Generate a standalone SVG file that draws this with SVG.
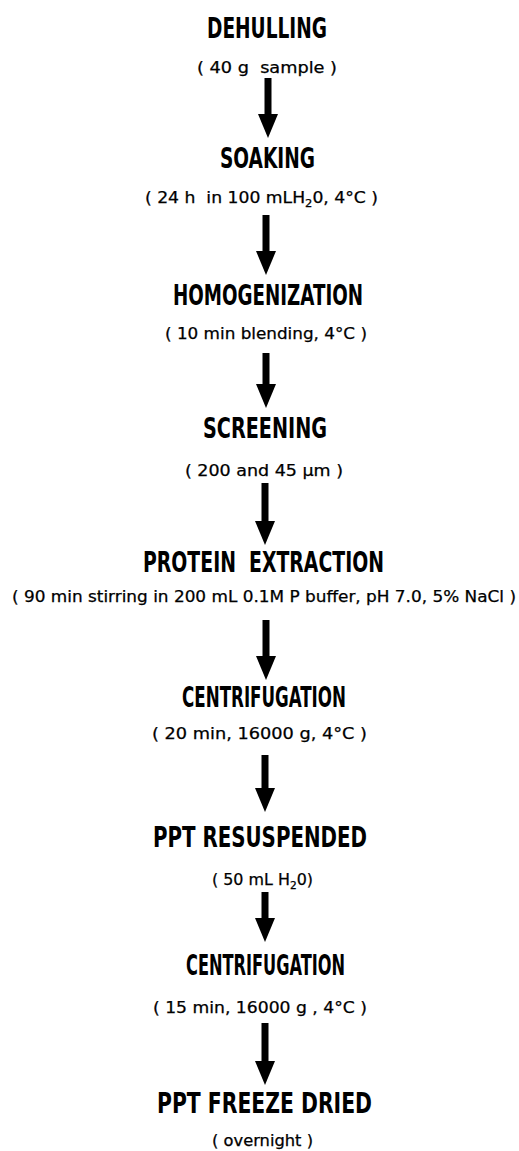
<svg xmlns="http://www.w3.org/2000/svg" width="519" height="1151" viewBox="0 0 519 1151">
<style>
.t{font-family:"DejaVu Sans Condensed","DejaVu Sans",sans-serif;font-weight:bold;font-size:29px;fill:#000;white-space:pre}
.s{font-family:"DejaVu Sans","Liberation Sans",sans-serif;font-size:15px;fill:#000;stroke:#000;stroke-width:0.25;white-space:pre}
.sub{font-size:10px}
.a{stroke:#000;stroke-width:7;fill:none;marker-end:url(#ah)}
</style>
<defs>
<marker id="ah" viewBox="0 0 24 20" refX="0" refY="10" markerWidth="24" markerHeight="20" markerUnits="userSpaceOnUse" orient="auto">
<path d="M0,0 L24,10 L0,20 z" fill="#000"/>
</marker>
</defs>
<rect width="519" height="1151" fill="#fff"/>
<g id="n1"><text class="t" x="207" y="38" textLength="120" lengthAdjust="spacingAndGlyphs">DEHULLING</text>
<text class="s" x="197" y="73" textLength="140" lengthAdjust="spacingAndGlyphs">( 40 g  sample )</text></g>
<g id="n2"><text class="t" x="220" y="168" textLength="95" lengthAdjust="spacingAndGlyphs">SOAKING</text>
<text class="s" x="145" y="203" textLength="233" lengthAdjust="spacingAndGlyphs">( 24 h  in 100 mLH<tspan class="sub" dy="4">2</tspan><tspan dy="-4">0, 4°C )</tspan></text></g>
<g id="n3"><text class="t" x="173" y="305" textLength="190" lengthAdjust="spacingAndGlyphs">HOMOGENIZATION</text>
<text class="s" x="165" y="339" textLength="202" lengthAdjust="spacingAndGlyphs">( 10 min blending, 4°C )</text></g>
<g id="n4"><text class="t" x="203" y="438" textLength="124" lengthAdjust="spacingAndGlyphs">SCREENING</text>
<text class="s" x="185" y="476" textLength="158" lengthAdjust="spacingAndGlyphs">( 200 and 45 µm )</text></g>
<g id="n5"><text class="t" x="143" y="572" textLength="241" lengthAdjust="spacingAndGlyphs">PROTEIN  EXTRACTION</text>
<text class="s" x="12" y="602" textLength="504" lengthAdjust="spacingAndGlyphs">( 90 min stirring in 200 mL 0.1M P buffer, pH 7.0, 5% NaCl )</text></g>
<g id="n6"><text class="t" x="182" y="707" textLength="164" lengthAdjust="spacingAndGlyphs">CENTRIFUGATION</text>
<text class="s" x="152" y="739" textLength="215" lengthAdjust="spacingAndGlyphs">( 20 min, 16000 g, 4°C )</text></g>
<g id="n7"><text class="t" x="153" y="847" textLength="214" lengthAdjust="spacingAndGlyphs">PPT RESUSPENDED</text>
<text class="s" x="212" y="885" textLength="101" lengthAdjust="spacingAndGlyphs">( 50 mL H<tspan class="sub" dy="4">2</tspan><tspan dy="-4">0)</tspan></text></g>
<g id="n8"><text class="t" x="186" y="975" textLength="159" lengthAdjust="spacingAndGlyphs">CENTRIFUGATION</text>
<text class="s" x="153" y="1013" textLength="214" lengthAdjust="spacingAndGlyphs">( 15 min, 16000 g , 4°C )</text></g>
<g id="n9"><text class="t" x="157" y="1113" textLength="215" lengthAdjust="spacingAndGlyphs">PPT FREEZE DRIED</text>
<text class="s" x="212" y="1146" textLength="101" lengthAdjust="spacingAndGlyphs">( overnight )</text></g>
<g id="connectors">
<line class="a" x1="268" y1="78" x2="268" y2="114"/>
<line class="a" x1="266" y1="215" x2="266" y2="251"/>
<line class="a" x1="266" y1="353" x2="266" y2="384"/>
<line class="a" x1="265" y1="483" x2="265" y2="521"/>
<line class="a" x1="266" y1="620" x2="266" y2="656"/>
<line class="a" x1="265" y1="755" x2="265" y2="788"/>
<line class="a" x1="265" y1="892" x2="265" y2="918"/>
<line class="a" x1="265" y1="1023" x2="265" y2="1061"/>
</g>
</svg>
